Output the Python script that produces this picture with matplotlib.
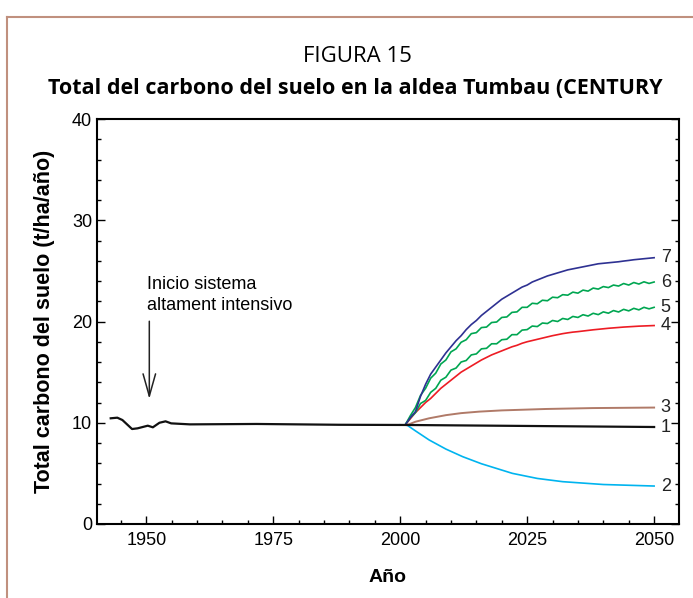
import matplotlib
matplotlib.use("Agg")
import matplotlib.pyplot as plt
from matplotlib.lines import Line2D
from matplotlib.ticker import MultipleLocator

# ---- data ----
base_years = [1943, 1944.3, 1945.3, 1947.2, 1948.3, 1950.3, 1951.3, 1952.6, 1953.8, 1954.9,
              1958.6, 1971.7, 1988, 2001.4, 2050]
base_vals = [10.44, 10.5, 10.27, 9.38, 9.45, 9.71, 9.55, 10.0, 10.14, 9.94,
             9.84, 9.88, 9.8, 9.78, 9.58]

future_years = list(range(2001, 2051))

s7_vals = [9.8, 10.5, 11.1, 12.6, 13.8, 14.8, 15.5, 16.2, 16.9, 17.5,
           18.1, 18.6, 19.2, 19.7, 20.1, 20.6, 21.0, 21.4, 21.8, 22.2,
           22.5, 22.8, 23.1, 23.4, 23.6, 23.9, 24.1, 24.3, 24.5, 24.65,
           24.8, 24.95, 25.1, 25.2, 25.3, 25.4, 25.5, 25.6, 25.7, 25.75,
           25.8, 25.85, 25.9, 25.97, 26.03, 26.1, 26.15, 26.2, 26.25, 26.3]

s6_vals = [9.8, 10.7, 11.5, 12.7, 13.4, 14.4, 14.9, 15.8, 16.2, 17.0,
           17.3, 17.95, 18.2, 18.8, 18.9, 19.4, 19.45, 19.9, 19.95, 20.4,
           20.45, 20.9, 20.95, 21.4, 21.4, 21.8, 21.75, 22.1, 22.05, 22.4,
           22.35, 22.65, 22.6, 22.9, 22.8, 23.1, 23.0, 23.3, 23.2, 23.45,
           23.35, 23.6, 23.5, 23.75, 23.6, 23.85, 23.7, 23.92, 23.76, 23.9]

s5_vals = [9.8, 10.5, 11.0, 11.9, 12.2, 13.0, 13.4, 14.2, 14.5, 15.2,
           15.4, 16.0, 16.15, 16.7, 16.8, 17.3, 17.35, 17.8, 17.8, 18.2,
           18.25, 18.7, 18.7, 19.15, 19.2, 19.55, 19.5, 19.85, 19.8, 20.1,
           20.0, 20.3, 20.2, 20.5, 20.4, 20.67, 20.54, 20.81, 20.68, 20.95,
           20.82, 21.08, 20.94, 21.2, 21.05, 21.3, 21.15, 21.4, 21.25, 21.4]

s4_vals = [9.8, 10.4, 11.0, 11.5, 12.0, 12.4, 12.9, 13.4, 13.8, 14.2,
           14.6, 15.0, 15.3, 15.6, 15.9, 16.2, 16.45, 16.7, 16.9, 17.1,
           17.3, 17.5, 17.65, 17.85, 18.0, 18.12, 18.24, 18.36, 18.48, 18.6,
           18.7, 18.8, 18.88, 18.95, 19.0, 19.06, 19.12, 19.18, 19.23, 19.28,
           19.33, 19.37, 19.41, 19.45, 19.48, 19.51, 19.54, 19.56, 19.58, 19.6]

s3_years = [2001.4, 2003, 2005.7, 2009, 2012, 2015.6, 2020, 2028.7, 2038, 2050]
s3_vals = [9.78, 10.1, 10.44, 10.75, 10.95, 11.1, 11.22, 11.36, 11.45, 11.5]

s2_years = [2000, 2001.4, 2003, 2005.7, 2009, 2012.3, 2016, 2022.1, 2027, 2032, 2040, 2050]
s2_vals = [9.8, 9.75, 9.2, 8.3, 7.4, 6.65, 5.95, 5.0, 4.5, 4.18, 3.9, 3.75]

curve_labels = ["7", "6", "5", "4", "3", "1", "2"]
curve_ends = [26.3, 23.9, 21.4, 19.6, 11.5, 9.58, 3.75]

xticks = [1950, 1975, 2000, 2025, 2050]
yticks = [0, 10, 20, 30, 40]

# ---- figure ----
fig = plt.figure(figsize=(6.93, 5.98), dpi=100)
ax = fig.add_axes([97/693, 1-524/598, (679-97)/693, (524-119)/598])

c_navy = "#2e3192"
c_green = "#00a651"
c_red = "#ed1c24"
c_brown = "#b07a68"
c_cyan = "#00b4ef"

ax.plot(s2_years, s2_vals, color=c_cyan, lw=1.2)
ax.plot(s3_years, s3_vals, color=c_brown, lw=1.4)
ax.plot(future_years, s4_vals, color=c_red, lw=1.2)
ax.plot(future_years, s5_vals, color=c_green, lw=1.2)
ax.plot(future_years, s6_vals, color=c_green, lw=1.2)
ax.plot(future_years, s7_vals, color=c_navy, lw=1.2)
ax.plot(base_years, base_vals, color="#111111", lw=1.6)

for lab, yv in zip(curve_labels, curve_ends):
    ax.text(2051.3, yv, lab, fontsize=13, family="Liberation Sans", va="center", ha="left",
            color="#222222")

ax.set_xlim(1940.3, 2054.9)
ax.set_ylim(0, 40)
ax.set_xticks(xticks)
ax.set_yticks(yticks)
ax.xaxis.set_minor_locator(MultipleLocator(5))
ax.yaxis.set_minor_locator(MultipleLocator(2))
ax.tick_params(which="both", direction="in", top=False, right=True, labelsize=13, width=1)
ax.tick_params(which="major", length=6)
ax.tick_params(which="minor", length=3)
ax.tick_params(axis="x", pad=6)
for lab in ax.get_xticklabels() + ax.get_yticklabels():
    lab.set_family("Liberation Sans")
for sp in ax.spines.values():
    sp.set_linewidth(1.5)

ax.set_xlabel("Año", fontsize=14, fontweight="bold", family="Liberation Sans", labelpad=14)
ax.set_ylabel("Total carbono del suelo (t/ha/año)", fontsize=15.5, fontweight="bold",
              family="Liberation Sans", labelpad=12)

ax.annotate("", xy=(1950.6, 12.08), xytext=(1950.6, 20.3),
            arrowprops=dict(arrowstyle="->,head_length=1.6,head_width=0.45", lw=1.1, color="#222222"))
ax.text(1950.2, 23.7, "Inicio sistema", fontsize=13, family="Liberation Sans", va="center", ha="left")
ax.text(1950.2, 21.6, "altament intensivo", fontsize=13, family="Liberation Sans", va="center", ha="left")

fig.text(357/693, 1-57/598, "FIGURA 15", fontsize=16, family="Open Sans", ha="center", va="center")
fig.text(355/693, 1-88/598, "Total del carbono del suelo en la aldea Tumbau (CENTURY",
         fontsize=15.5, family="Open Sans", fontweight="bold", ha="center", va="center")

border = "#c0907e"
fig.add_artist(Line2D([7/693, 7/693], [0, 1-17/598], color=border, lw=1.5, transform=fig.transFigure))
fig.add_artist(Line2D([7/693, 1], [1-17/598, 1-17/598], color=border, lw=1.5, transform=fig.transFigure))

fig.savefig("out.png", dpi=100)
